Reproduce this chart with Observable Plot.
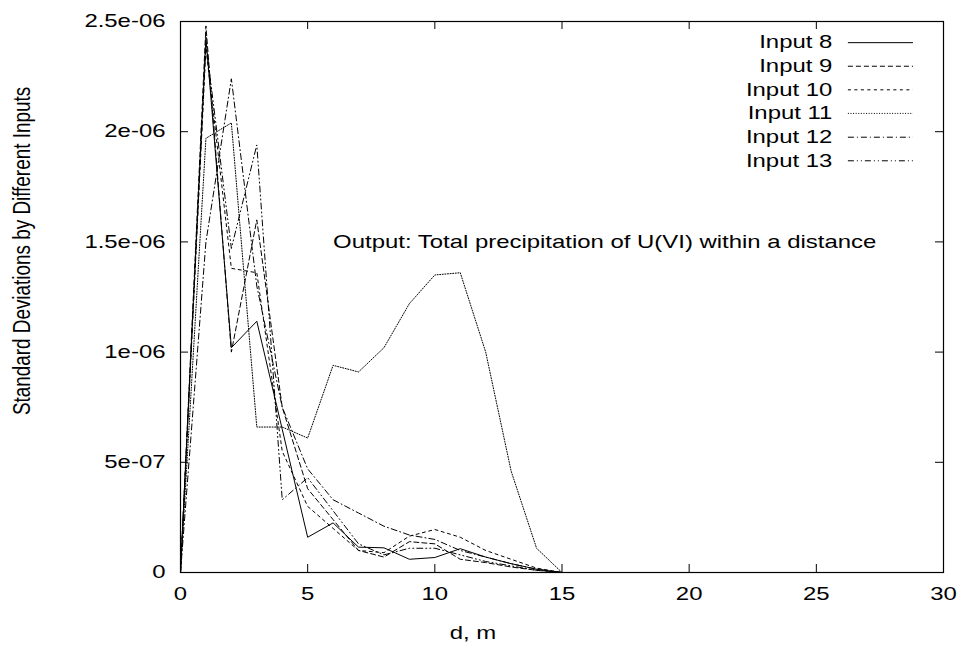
<!DOCTYPE html>
<html><head><meta charset="utf-8">
<script src="https://cdn.jsdelivr.net/npm/d3@7"></script>
<script src="https://cdn.jsdelivr.net/npm/@observablehq/plot@0.6"></script>
<style>html,body{margin:0;padding:0;background:#fff;}</style>
</head><body><div id="chart"></div>
<script>
// ---- data ----
const distances = [0,1,2,3,4,5,6,7,8,9,10,11,12,13,14,15,16,17,18,19,20,21,22,23,24,25,26,27,28,29,30];
const seriesNames = ["Input 8","Input 9","Input 10","Input 11","Input 12","Input 13"];
const input8  = [0,2.43e-6,1.02e-6,1.14e-6,6.5e-7,1.6e-7,2.25e-7,1.15e-7,1.12e-7,6e-8,6.8e-8,1.08e-7,7e-8,4e-8,1.5e-8,0,0,0,0,0,0,0,0,0,0,0,0,0,0,0,0];
const input9  = [0,2.48e-6,1.0e-6,1.6e-6,7.5e-7,3.8e-7,2.4e-7,1.0e-7,7e-8,1.4e-7,1.3e-7,6e-8,4.5e-8,2.5e-8,1e-8,0,0,0,0,0,0,0,0,0,0,0,0,0,0,0,0];
const input10 = [0,2.38e-6,1.38e-6,1.36e-6,5.5e-7,3.0e-7,2.0e-7,1.0e-7,9e-8,1.65e-7,1.95e-7,1.6e-7,1.0e-7,6e-8,2e-8,0,0,0,0,0,0,0,0,0,0,0,0,0,0,0,0];
const input11 = [0,1.97e-6,2.04e-6,6.6e-7,6.6e-7,6.1e-7,9.4e-7,9.1e-7,1.02e-6,1.22e-6,1.35e-6,1.36e-6,1.0e-6,4.6e-7,1.1e-7,0,0,0,0,0,0,0,0,0,0,0,0,0,0,0,0];
const input12 = [0,1.5e-6,2.24e-6,1.3e-6,7.5e-7,4.7e-7,3.3e-7,2.7e-7,2.1e-7,1.7e-7,1.5e-7,1.0e-7,7e-8,4e-8,1.5e-8,0,0,0,0,0,0,0,0,0,0,0,0,0,0,0,0];
const input13 = [0,2.4e-6,1.47e-6,1.94e-6,3.3e-7,4.3e-7,2.8e-7,1.3e-7,8e-8,1.1e-7,1.1e-7,8e-8,5e-8,3e-8,1e-8,0,0,0,0,0,0,0,0,0,0,0,0,0,0,0,0];
const seriesValues = [input8,input9,input10,input11,input12,input13];
const dashPatterns = [null,"5,3","3,3.5","1,1.6","6,3,1,3","6,3,1,3,1,3"];

const xTicks = [0,5,10,15,20,25,30];
const xTickLabels = ["0","5","10","15","20","25","30"];
const yTicks = [0,5e-7,1e-6,1.5e-6,2e-6,2.5e-6];
const yTickLabels = ["0","5e-07","1e-06","1.5e-06","2e-06","2.5e-06"];
const xLabel = "d, m";
const yLabel = "Standard Deviations by Different Inputs";
const annotationText = "Output: Total precipitation of U(VI) within a distance";
const annotationPos = [6, 1.5e-6];
// legend placement in data units
const legendTextX = 25.63;
const legendLineX = [26.26, 28.82];
const legendRowY = [2.404e-6, 2.297e-6, 2.19e-6, 2.083e-6, 1.975e-6, 1.868e-6];

// ---- layout ----
const W = 963, H = 651;
const mL = 180, mR = 20, mT = 21, mB = 79;
const frameW = W - mL - mR, frameH = H - mT - mB;
const tickLen = 8;

const rows = [];
seriesNames.forEach((name, s) => distances.forEach((d, i) => rows.push({series: name, d, v: seriesValues[s][i]})));

const lineMarks = seriesNames.map((name, s) =>
  Plot.line(rows.filter(r => r.series === name), {x: "d", y: "v", stroke: "black", strokeWidth: 1,
    strokeDasharray: dashPatterns[s] || undefined, strokeLinejoin: "miter"}));

const legendMarks = seriesNames.flatMap((name, s) => [
  Plot.text([name], {x: () => legendTextX, y: () => legendRowY[s], text: d => d, textAnchor: "end", fill: "black"}),
  Plot.ruleY([legendRowY[s]], {y: d => d, x1: () => legendLineX[0], x2: () => legendLineX[1], stroke: "black", strokeWidth: 1,
    strokeDasharray: dashPatterns[s] || undefined})
]);

const chart = Plot.plot({
  width: W, height: H,
  marginLeft: mL, marginRight: mR, marginTop: mT, marginBottom: mB,
  style: {fontFamily: "'Liberation Sans', Arial, sans-serif", fontSize: "18px", background: "white", color: "black"},
  x: {domain: [0, 30]},
  y: {domain: [0, 2.5e-6]},
  marks: [
    ...lineMarks,
    ...legendMarks,
    Plot.text([annotationText], {x: () => annotationPos[0], y: () => annotationPos[1], text: d => d, textAnchor: "start", fill: "black"}),
    Plot.tickX(xTicks, {x: d => d, insetTop: frameH - tickLen, stroke: "black"}),
    Plot.tickX(xTicks, {x: d => d, insetBottom: frameH - tickLen, stroke: "black"}),
    Plot.tickY(yTicks, {y: d => d, insetRight: frameW - tickLen, stroke: "black"}),
    Plot.tickY(yTicks, {y: d => d, insetLeft: frameW - tickLen, stroke: "black"}),
    Plot.axisX({ticks: xTicks, tickFormat: d => xTickLabels[xTicks.indexOf(d)], tickSize: 0, tickPadding: 15, label: null}),
    Plot.axisY({ticks: yTicks, tickFormat: d => yTickLabels[yTicks.indexOf(d)], tickSize: 0, tickPadding: 15, label: null}),
    Plot.text([xLabel], {frameAnchor: "bottom", text: d => d, textAnchor: "middle", lineAnchor: "middle", dx: -89, dy: 61, fill: "black"}),
    Plot.text([yLabel], {frameAnchor: "left", text: d => d, textAnchor: "middle", lineAnchor: "middle", rotate: -90, dx: -158, dy: -46, fill: "black"}),
    Plot.frame({stroke: "black", strokeWidth: 1.2})
  ]
});

// widen glyphs horizontally on screen (reference text is horizontally stretched)
chart.querySelectorAll("text").forEach(t => {
  let tr = t.getAttribute("transform") || "";
  if (tr.includes("rotate")) {
    // rotated label: stretch perpendicular to baseline (screen-horizontal)
    t.setAttribute("transform", tr + " scale(1.05,1.33)");
    return;
  }
  const xa = t.getAttribute("x");
  if (xa !== null && !isNaN(+xa)) { tr = `translate(${+xa},0) ` + tr; t.removeAttribute("x"); }
  t.setAttribute("transform", tr + " scale(1.33,1)");
});

document.getElementById("chart").appendChild(chart);
</script>
</body></html>
